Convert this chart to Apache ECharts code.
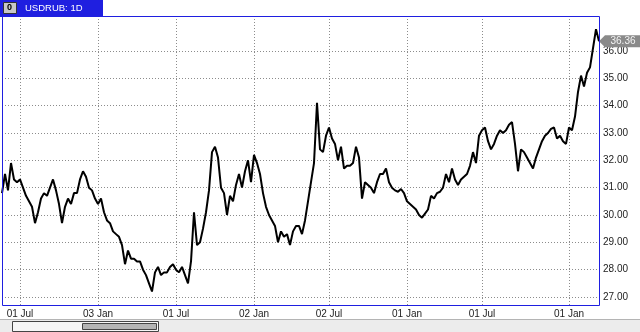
<!DOCTYPE html>
<html><head><meta charset="utf-8">
<script src="https://cdn.jsdelivr.net/npm/echarts@6/dist/echarts.min.js"></script>
<style>html,body{margin:0;padding:0;background:#fff;overflow:hidden}#c{width:640px;height:332px}</style>
</head><body><div id="c"></div>
<script>
// ---- data ----
const symbolName = 'USDRUB: 1D';
const tickDates = ['2010-07-01','2011-01-03','2011-07-01','2012-01-02','2012-07-02','2013-01-01','2013-07-01','2014-01-01'];
const tickLabels = ['01 Jul','03 Jan','01 Jul','02 Jan','02 Jul','01 Jan','01 Jul','01 Jan'];
const weeksBefore = 6;
const weeksPerSegment = [26,26,26,25,26,25,29,11];
const yTicks = [27,28,29,30,31,32,33,34,35,36];
const closes = [
 30.8,31.5,30.9,31.9,31.3,31.2,31.3,31.0,30.7,30.5,
 30.3,29.7,30.1,30.6,30.8,30.7,31.0,31.3,30.9,30.4,
 29.7,30.3,30.6,30.4,30.8,30.8,31.3,31.6,31.4,31.0,
 30.9,30.6,30.4,30.6,30.1,29.8,29.7,29.4,29.3,29.2,
 28.9,28.2,28.7,28.4,28.4,28.3,28.3,28.0,27.8,27.5,
 27.2,27.9,28.1,27.8,27.9,27.9,28.1,28.2,28.0,27.9,
 28.1,27.8,27.5,28.3,30.1,28.9,29.0,29.5,30.1,30.9,
 32.3,32.5,32.1,31.0,30.8,30.0,30.7,30.5,31.1,31.5,
 31.0,31.6,32.0,31.2,32.2,31.9,31.5,30.8,30.3,30.0,
 29.8,29.6,29.0,29.4,29.2,29.3,28.9,29.4,29.6,29.6,
 29.3,29.8,30.5,31.2,31.9,34.1,32.4,32.3,32.9,33.2,
 32.8,32.6,32.0,32.5,31.7,31.8,31.8,31.9,32.5,32.1,
 30.6,31.2,31.1,31.0,30.8,31.2,31.5,31.5,31.7,31.2,
 31.0,30.9,30.85,30.95,30.8,30.5,30.4,30.3,30.2,30.0,
 29.9,30.05,30.2,30.7,30.6,30.8,30.85,31.0,31.5,31.2,
 31.7,31.3,31.1,31.3,31.4,31.5,31.8,32.3,31.9,32.9,
 33.1,33.2,32.7,32.4,32.6,32.9,33.1,33.0,33.1,33.3,
 33.4,32.6,31.6,32.4,32.3,32.1,31.9,31.7,32.1,32.4,
 32.7,32.9,33.0,33.15,33.2,32.8,32.9,32.7,32.6,33.2,
 33.1,33.6,34.5,35.1,34.7,35.2,35.4,36.1,36.8,36.36
];

function addDays(s, n){ const d = new Date(s + 'T00:00:00Z'); d.setUTCDate(d.getUTCDate() + n); return d.toISOString().slice(0,10); }
const dates = [];
for (let j = weeksBefore; j > 0; j--) dates.push(addDays(tickDates[0], -7 * j));
tickDates.forEach((t, k) => { for (let j = 0; j < weeksPerSegment[k]; j++) dates.push(addDays(t, 7 * j)); });

const isTick = (idx, val) => tickDates.indexOf(val) >= 0;
const FONT = 'Liberation Sans';
const BLUE = '#1f1fe0';
const dotted = { color: '#8c8c8c', width: 1, type: [1, 2] };
const last = closes.length - 1;

const chart = echarts.init(document.getElementById('c'), null, { renderer: 'canvas' });
chart.setOption({
  animation: false,
  backgroundColor: '#fff',
  title: {
    text: symbolName, left: 25, top: 2, padding: 0,
    textStyle: { color: '#fff', fontFamily: FONT, fontSize: 9.5, fontWeight: 'normal', lineHeight: 13 }
  },
  grid: { left: 2, right: 41, top: 16, bottom: 26, show: false },
  xAxis: {
    type: 'category', data: dates, boundaryGap: false,
    axisLine: { show: false }, axisTick: { show: false },
    axisLabel: { interval: isTick, formatter: v => tickLabels[tickDates.indexOf(v)], color: '#222', fontFamily: FONT, fontSize: 10, margin: 3 },
    splitLine: { show: true, interval: isTick, lineStyle: dotted }
  },
  yAxis: {
    type: 'value', position: 'right', min: 26.67, max: 37.28, scale: true,
    axisLine: { show: false },
    axisTick: { show: false, customValues: yTicks },
    axisLabel: { customValues: yTicks, formatter: v => v.toFixed(2), color: '#222', fontFamily: FONT, fontSize: 10, margin: 4 },
    splitLine: { show: true, lineStyle: dotted }
  },
  series: [{
    type: 'line', data: closes, showSymbol: false, symbol: 'none',
    lineStyle: { color: '#000', width: 2 }, clip: true,
    markPoint: {
      symbol: 'path://M0,6 L6,0 L42,0 L42,12 L6,12 Z', symbolSize: [42, 12], symbolOffset: [21, 0],
      itemStyle: { color: '#8a8a8a' },
      label: { show: true, color: '#f4f4f4', fontFamily: FONT, fontSize: 10, offset: [3, 0], formatter: p => p.value.toFixed(2) },
      data: [{ coord: [last, closes[last]], value: closes[last] }]
    }
  }],
  graphic: [
    { type: 'rect', z: 20, silent: true, shape: { x: 2.5, y: 16.5, width: 597, height: 289 }, style: { fill: null, stroke: BLUE, lineWidth: 1 } },
    { type: 'rect', z: -10, shape: { x: 0, y: 0, width: 103, height: 17 }, style: { fill: BLUE } },
    { type: 'rect', z: 10, shape: { x: 3.5, y: 2.5, width: 13, height: 11 }, style: { fill: '#c8c8c8', stroke: '#333', lineWidth: 1 } },
    { type: 'text', z: 11, x: 7, y: 3, style: { text: '0', fill: '#000', font: 'bold 9px Liberation Sans' } },
    { type: 'rect', z: 10, shape: { x: 0, y: 319, width: 640, height: 13 }, style: { fill: '#ececec' } },
    { type: 'line', z: 11, shape: { x1: 0, y1: 319.5, x2: 640, y2: 319.5 }, style: { stroke: '#b4b4b4', lineWidth: 1 } },
    { type: 'rect', z: 12, shape: { x: 12.5, y: 321.5, width: 146, height: 10 }, style: { fill: '#f6f6f6', stroke: '#444', lineWidth: 1 } },
    { type: 'rect', z: 13, shape: { x: 82.5, y: 323.5, width: 74, height: 6 }, style: { fill: '#b4b4b4', stroke: '#444', lineWidth: 1 } }
  ]
});
</script>
</body></html>
